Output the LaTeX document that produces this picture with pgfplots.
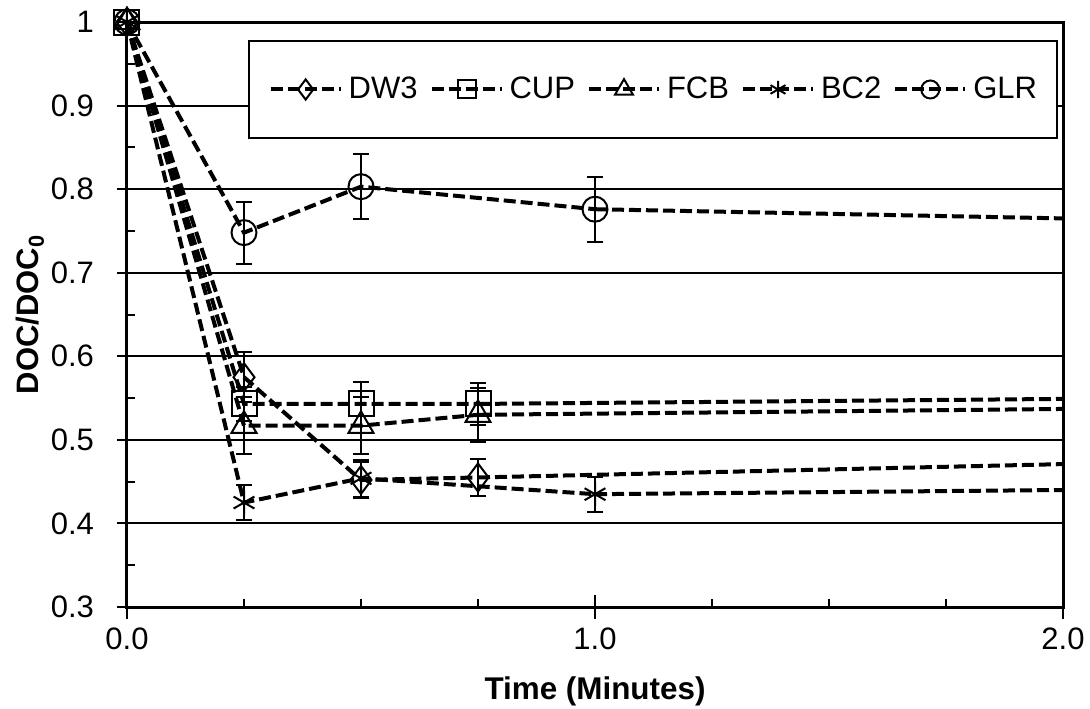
\documentclass[border=0pt]{standalone}
\usepackage{fontspec}
\setmainfont{Liberation Sans}
\usepackage{pgfplots}
\usepackage{pgfplotstable}
\pgfplotsset{compat=1.18}

\pgfplotstableread{
x y e
0 1 0
0.25 0.575 0.03
0.5 0.452 0.022
0.75 0.455 0.022
}\dwthree
\pgfplotstableread{
x y e
0 1 0
0.25 0.543 0.02
0.5 0.543 0.026
0.75 0.543 0.025
}\cupdata
\pgfplotstableread{
x y e
0 1 0
0.25 0.517 0.034
0.5 0.517 0.034
0.75 0.530 0.032
}\fcb
\pgfplotstableread{
x y e
0 1 0
0.25 0.425 0.021
0.5 0.454 0.022
1.0 0.435 0.021
}\bctwo
\pgfplotstableread{
x y e
0 1 0
0.25 0.748 0.037
0.5 0.803 0.039
1.0 0.776 0.039
}\glr

\begin{document}
\begin{tikzpicture}
\begin{axis}[
  at={(0,0)}, anchor=south west,
  scale only axis, width=468pt, height=292.5pt,
  xmin=0, xmax=2, ymin=0.3, ymax=1,
  xtick={0,1,2}, minor x tick num=3,
  ytick={0.3,0.4,0.5,0.6,0.7,0.8,0.9,1}, minor y tick num=1,
  xticklabel style={/pgf/number format/fixed, /pgf/number format/fixed zerofill, /pgf/number format/precision=1},
  /pgf/number format/assume math mode=true,
  tick pos=left,
  tick align=inside,
  major tick length=12pt, minor tick length=4pt,
  major x tick style={yshift=-6pt, line width=1pt, black},
  major y tick style={xshift=-5pt, line width=1pt, black},
  minor tick style={line width=1pt, black},
  ymajorgrids,
  grid style={black, line width=1pt, solid},
  axis line style={line width=1.5pt},
  ticklabel style={font=\fontsize{15.5}{18}\selectfont},
  yticklabel shift=13pt,
  xticklabel shift=7pt,
  xlabel={\bfseries Time (Minutes)},
  ylabel={\bfseries DOC/DOC\textsubscript{0}},
  every axis x label/.style={at={(axis description cs:0.5,0)}, yshift=-42pt, anchor=center, font=\fontsize{15.7}{18}\selectfont},
  every axis y label/.style={at={(axis description cs:-0.1036,0.5)}, rotate=90, anchor=center, font=\fontsize{15.5}{18}\selectfont},
  clip=false,
  every axis plot/.append style={black, line width=2pt, dash pattern=on 6pt off 2.5pt},
  error bars/error bar style={solid, line width=1pt, black},
  error bars/error mark options={rotate=90, mark size=4pt, solid, line width=1pt, black},
  legend columns=5,
  legend style={at={(0.9947,0.969)}, anchor=north east, draw=black, line width=1pt,
    inner xsep=10pt, inner ysep=16pt,
    font=\fontsize{15.5}{18}\selectfont,
    nodes={inner xsep=0pt, inner ysep=2pt},
    /tikz/every odd column/.append style={column sep=3pt},
    /tikz/every even column/.append style={column sep=6pt}},
  legend image code/.code={
    \draw[#1, mark=none] (0pt,0pt) -- (35pt,0pt);
    \draw[#1, solid, mark options={solid, line width=1pt, black, scale=0.72}] plot coordinates {(17.5pt,0pt)};},
]
\addplot[black, mark=diamond, mark size=7pt, mark options={solid, line width=1pt, black}, error bars/.cd, y dir=both, y explicit] table[x=x, y=y, y error=e] {\dwthree};
\addlegendentry{DW3}
\addplot[black, mark=square, mark size=6.25pt, mark options={solid, line width=1pt, black}, error bars/.cd, y dir=both, y explicit] table[x=x, y=y, y error=e] {\cupdata};
\addlegendentry{CUP}
\addplot[black, mark=triangle, mark size=7.2pt, mark options={solid, line width=1pt, black}, error bars/.cd, y dir=both, y explicit] table[x=x, y=y, y error=e] {\fcb};
\addlegendentry{FCB}
\addplot[black, mark=asterisk, mark size=6pt, mark options={solid, line width=1pt, black}, error bars/.cd, y dir=both, y explicit] table[x=x, y=y, y error=e] {\bctwo};
\addlegendentry{BC2}
\addplot[black, mark=o, mark size=6.25pt, mark options={solid, line width=1pt, black}, error bars/.cd, y dir=both, y explicit] table[x=x, y=y, y error=e] {\glr};
\addlegendentry{GLR}
% tails toward the right edge
\addplot[forget plot, no marks] coordinates {(0.75,0.455) (2,0.471)};
\addplot[forget plot, no marks] coordinates {(0.75,0.543) (2,0.549)};
\addplot[forget plot, no marks] coordinates {(0.75,0.530) (2,0.537)};
\addplot[forget plot, no marks] coordinates {(1.0,0.435) (2,0.440)};
\addplot[forget plot, no marks] coordinates {(1.0,0.776) (2,0.765)};
\end{axis}
\pgfresetboundingbox
\path[use as bounding box] (-63.5pt,-50.5pt) rectangle (481.5pt,303.5pt);
\end{tikzpicture}
\end{document}
